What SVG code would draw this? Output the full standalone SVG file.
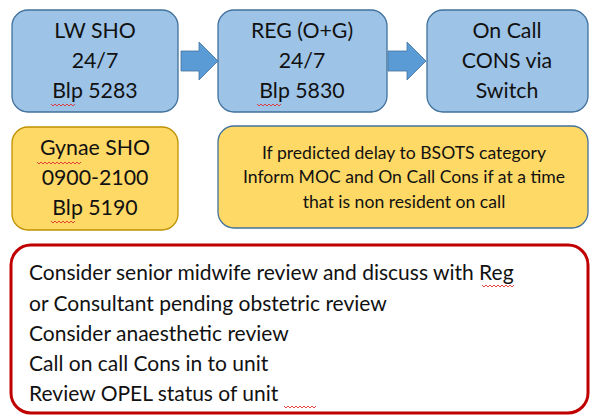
<svg xmlns="http://www.w3.org/2000/svg" width="590" height="416" viewBox="0 0 590 416">
  <style>
    .blue { fill: #9dc3e6; stroke: #41719c; stroke-width: 1.3; }
    .gold { fill: #ffd966; stroke: #bf9000; stroke-width: 1.3; }
    .goldb { fill: #ffd966; stroke: #41719c; stroke-width: 1.3; }
    .arrow { fill: #5b9bd5; stroke: #41719c; stroke-width: 0.8; }
    .big { font-family: Lato, "Open Sans", sans-serif; font-size: 21.3px; fill: #111; text-anchor: middle; }
    .mid { font-family: Lato, "Open Sans", sans-serif; font-size: 17.6px; fill: #111; text-anchor: middle; }
    .list { font-family: Lato, "Open Sans", sans-serif; font-size: 21px; fill: #111; }
    .squig { fill: none; stroke: #e03030; stroke-width: 0.9; }
  </style>

  <!-- top row -->
  <g id="lw-sho">
    <rect class="blue" x="12" y="10" width="166" height="102" rx="16"/>
    <text class="big" x="95" y="38">LW SHO</text>
    <text class="big" x="95" y="68">24/7</text>
    <text class="big" x="95" y="98">Blp 5283</text>
    <path class="squig" d="M51 104 l2 2 l2 -2 l2 2 l2 -2 l2 2 l2 -2 l2 2 l2 -2 l2 2 l2 -2 l2 2 l2 -2"/>
  </g>
  <g id="reg">
    <rect class="blue" x="218" y="10" width="169" height="102" rx="16"/>
    <text class="big" x="302" y="38">REG (O+G)</text>
    <text class="big" x="302" y="68">24/7</text>
    <text class="big" x="302" y="98">Blp 5830</text>
    <path class="squig" d="M257 104 l2 2 l2 -2 l2 2 l2 -2 l2 2 l2 -2 l2 2 l2 -2 l2 2 l2 -2 l2 2 l2 -2"/>
  </g>
  <g id="on-call-cons">
    <rect class="blue" x="427" y="10" width="161" height="102" rx="16"/>
    <text class="big" x="507" y="38">On Call</text>
    <text class="big" x="507" y="68">CONS via</text>
    <text class="big" x="507" y="98">Switch</text>
  </g>

  <!-- block arrows between top row -->
  <g id="connectors">
    <path class="arrow" d="M181 51 H199 V42 L218 61 L199 80 V71 H181 Z"/>
    <path class="arrow" d="M388 51 H407 V42 L426 61 L407 80 V71 H388 Z"/>
  </g>

  <!-- second row -->
  <g id="gynae-sho">
    <rect class="gold" x="12" y="127" width="166" height="103" rx="16"/>
    <text class="big" x="95" y="155">Gynae SHO</text>
    <text class="big" x="95" y="185">0900-2100</text>
    <text class="big" x="95" y="215">Blp 5190</text>
    <path class="squig" d="M37 162 l2 2 l2 -2 l2 2 l2 -2 l2 2 l2 -2 l2 2 l2 -2 l2 2 l2 -2 l2 2 l2 -2 l2 2 l2 -2 l2 2 l2 -2 l2 2 l2 -2 l2 2 l2 -2 l2 2 l2 -2"/>
    <path class="squig" d="M51 221 l2 2 l2 -2 l2 2 l2 -2 l2 2 l2 -2 l2 2 l2 -2 l2 2 l2 -2 l2 2 l2 -2"/>
  </g>
  <g id="delay-note">
    <rect class="goldb" x="218" y="126" width="370" height="102" rx="16"/>
    <text class="mid" x="404" y="159">If predicted delay to BSOTS category</text>
    <text class="mid" x="404" y="183">Inform MOC and On Call Cons if at a time</text>
    <text class="mid" x="404" y="208">that is non resident on call</text>
  </g>

  <!-- escalation actions -->
  <g id="actions">
    <rect x="11" y="245" width="577" height="168" rx="20" fill="#ffffff" stroke="#c00000" stroke-width="3"/>
    <text class="list" x="29" y="280">Consider senior midwife review and discuss with Reg</text>
    <text class="list" x="29" y="311">or Consultant pending obstetric review</text>
    <text class="list" x="29" y="341">Consider anaesthetic review</text>
    <text class="list" x="29" y="371">Call on call Cons in to unit</text>
    <text class="list" x="29" y="401">Review OPEL status of unit</text>
    <path class="squig" d="M482 285 l2 2 l2 -2 l2 2 l2 -2 l2 2 l2 -2 l2 2 l2 -2 l2 2 l2 -2 l2 2 l2 -2 l2 2 l2 -2 l2 2 l2 -2"/>
    <path class="squig" d="M284 406 l2 2 l2 -2 l2 2 l2 -2 l2 2 l2 -2 l2 2 l2 -2 l2 2 l2 -2 l2 2 l2 -2 l2 2 l2 -2 l2 2 l2 -2"/>
  </g>
</svg>
